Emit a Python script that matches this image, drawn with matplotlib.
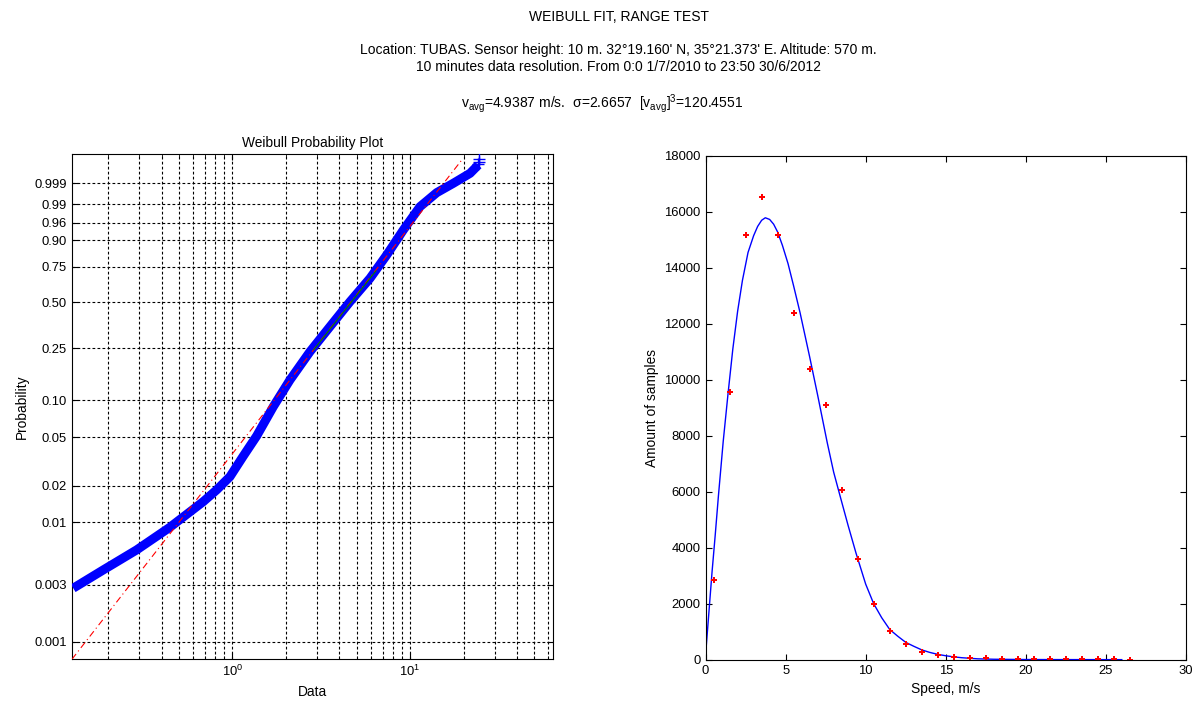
import numpy as np
import matplotlib
matplotlib.use('Agg')
import matplotlib.pyplot as plt
from matplotlib.ticker import FixedLocator, NullLocator, NullFormatter, LogLocator

plt.rcParams['font.family'] = ['Liberation Sans', 'DejaVu Sans']
plt.rcParams['mathtext.fontset'] = 'custom'
plt.rcParams['mathtext.rm'] = 'Liberation Sans'
plt.rcParams['mathtext.it'] = 'Liberation Sans:italic'
plt.rcParams['font.size'] = 9.4

data_speed = [0.1274, 0.188, 0.2897, 0.4461, 0.6869, 0.817, 0.9707, 1.15, 1.372, 1.701,
              2.112, 2.737, 3.546, 4.597, 5.956, 7.394, 9.17, 11.38, 14.13, 17.52,
              21.77, 24.2]
data_prob = [0.0028, 0.00398, 0.00585, 0.00905, 0.01479, 0.0185, 0.02382, 0.035, 0.0515,
             0.0888, 0.1442, 0.2356, 0.353, 0.5057, 0.6691, 0.8233, 0.9396, 0.98773,
             0.99686, 0.999, 0.99977, 0.999946]
# last samples drawn as individual '+' marks at the top end
top_speed = [24.2, 24.3, 24.4]
top_prob = [0.999955, 0.99997, 0.999985]

# fitted weibull reference line (straight on this scale)
fit_speed = [0.1253, 19.54]
fit_prob = [7.12e-4, 0.99998]
mid_speed = [2.87, 6.42]
mid_prob = [0.243, 0.72]

prob_ticks = [0.001, 0.003, 0.01, 0.02, 0.05, 0.10, 0.25, 0.50, 0.75, 0.90, 0.96, 0.99, 0.999]
prob_labels = ['0.001', '0.003', '0.01', '0.02', '0.05', '0.10', '0.25', '0.50',
               '0.75', '0.90', '0.96', '0.99', '0.999']

# ---- right plot: histogram counts and fitted curve ----
bin_centers = [0.5, 1.5, 2.5, 3.5, 4.5, 5.5, 6.5, 7.5, 8.5, 9.5, 10.5, 11.5, 12.5, 13.5,
               14.5, 15.5, 16.5, 17.5, 18.5, 19.5, 20.5, 21.5, 22.5, 23.5, 24.5, 25.5, 26.5]
bin_counts = [2830, 9570, 15170, 16530, 15170, 12380, 10370, 9090, 6070, 3600, 1985,
              1036, 555, 284, 156, 105, 60, 60, 30, 30, 25, 20, 20, 15, 15, 15, 3]

curve_speed = [0.02, 0.2, 0.4, 0.6, 0.8, 1.1, 1.4, 1.7, 2.0, 2.3, 2.65, 3.0, 3.25, 3.5,
               3.73, 4.0, 4.25, 4.5, 4.8, 5.15, 5.5, 5.9, 6.5, 7.0, 7.6, 8.0, 8.4, 8.9,
               9.4, 10.0, 10.5, 11.0, 11.5, 12.0, 12.5, 13.0, 13.5, 14.0, 14.5, 15.0,
               15.5, 16.0, 17.0, 18.0, 20.0, 22.0, 24.0, 26.0]
curve_count = [330, 1650, 3120, 4450, 5850, 7800, 9500, 11100, 12450, 13550, 14550, 15150,
               15480, 15700, 15790, 15730, 15560, 15280, 14800, 14150, 13350, 12400,
               10820, 9450, 7750, 6700, 5850, 4800, 3800, 2700, 2000, 1500, 1080, 840,
               620, 480, 350, 260, 190, 140, 100, 70, 30, 15, 5, 3, 2, 1]


def wbl_fwd(p):
    p = np.clip(p, 1e-15, 1 - 1e-15)
    return np.log(-np.log1p(-p))


def wbl_inv(w):
    return -np.expm1(-np.exp(w))


fig = plt.figure(figsize=(11.99, 7.02), dpi=100)
ax1 = fig.add_axes([0.0600, 0.0609, 0.4015, 0.7193])
ax2 = fig.add_axes([0.5885, 0.0603, 0.4005, 0.7176])

# header
hx = 0.516
fig.text(hx, 0.9758, 'WEIBULL FIT, RANGE TEST', ha='center', va='center', fontsize=10)
fig.text(hx, 0.9288, "Location: TUBAS. Sensor height: 10 m. 32°19.160' N, 35°21.373' E. Altitude: 570 m.",
         ha='center', va='center', fontsize=10)
fig.text(hx, 0.9046, '10 minutes data resolution. From 0:0 1/7/2010 to 23:50 30/6/2012',
         ha='center', va='center', fontsize=10)
fig.text(0.502, 0.8520, r'v$_{\mathrm{avg}}$=4.9387 m/s.  σ=2.6657  [v$_{\mathrm{avg}}$]$^{3}$=120.4551',
         ha='center', va='center', fontsize=10)

# left: weibull probability plot
grid_style = dict(color='black', linestyle=(0, (2.5, 2)), linewidth=0.8)
ax1.set_xscale('log')
ax1.set_yscale('function', functions=(wbl_fwd, wbl_inv))
ax1.plot(data_speed, data_prob, color='blue', lw=6.5, solid_capstyle='butt',
         solid_joinstyle='round', zorder=3)
ax1.plot(top_speed, top_prob, '+', color='blue', ms=8, mew=1, zorder=3)
ax1.plot(fit_speed, fit_prob, color='red', lw=0.8, linestyle=(0, (6, 3, 1, 3)), zorder=4)
ax1.plot(mid_speed, mid_prob, color='green', lw=0.8, zorder=5)
ax1.set_xlim(0.1253, 64.0)
ax1.set_ylim(7.12e-4, 1 - 5.67e-6)
ax1.yaxis.set_major_locator(FixedLocator(prob_ticks))
ax1.set_yticklabels(prob_labels)
ax1.yaxis.set_minor_locator(NullLocator())
ax1.xaxis.set_minor_locator(LogLocator(base=10, subs=np.arange(2, 10)))
ax1.xaxis.set_minor_formatter(NullFormatter())
ax1.grid(True, which='both', axis='x', **grid_style)
ax1.grid(True, which='major', axis='y', **grid_style)
ax1.set_axisbelow(True)
ax1.set_title('Weibull Probability Plot', fontsize=9.9, pad=5)
ax1.set_xlabel('Data', fontsize=9.9)
ax1.set_ylabel('Probability', fontsize=9.9)

# right: histogram of speeds with fit
ax2.plot(curve_speed, curve_count, color='blue', lw=1)
ax2.plot(bin_centers, bin_counts, 'P', color='red', ms=5, mew=0)
ax2.set_xlim(0, 30)
ax2.set_ylim(0, 18000)
ax2.set_xticks(range(0, 31, 5))
ax2.set_yticks(range(0, 18001, 2000))
ax2.set_xlabel('Speed, m/s', fontsize=9.9)
ax2.set_ylabel('Amount of samples', fontsize=9.9)

for ax in (ax1, ax2):
    ax.tick_params(which='both', direction='in', top=True, right=True, labelsize=9.4)
    ax.tick_params(which='major', length=4)
    ax.tick_params(which='minor', length=2)
    for s in ax.spines.values():
        s.set_linewidth(0.8)

fig.savefig('out.png', dpi=100, facecolor='white')
